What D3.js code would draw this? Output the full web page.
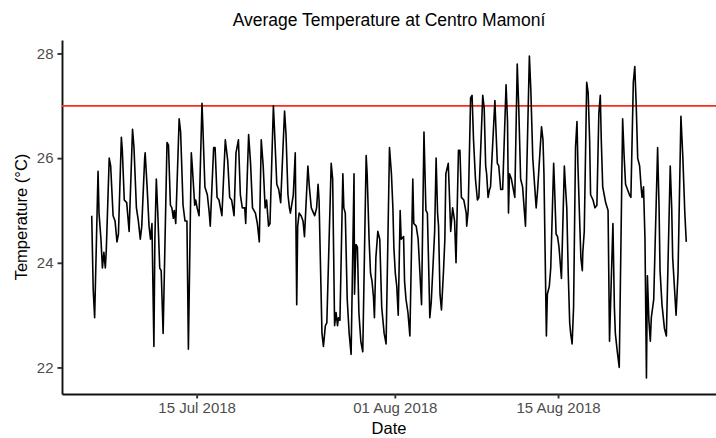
<html>

<head>
    <script src="https://d3js.org/d3.v7.min.js"></script>
    <style>
        body { margin: 0; background: #fff; }
        text { font-family: "Liberation Sans", Arial, sans-serif; }
    </style>
</head>

<body>
    <div id="vis"></div>
</body>

<script>

    // Readings taken off the logger curve (turning points of the daily cycle)
    var times = [
        "2018-07-06 00:00", "2018-07-06 03:00", "2018-07-06 06:00", "2018-07-06 13:00", "2018-07-06 15:00", "2018-07-06 19:00", "2018-07-06 22:00",
        "2018-07-07 01:00", "2018-07-07 04:00", "2018-07-07 06:00", "2018-07-07 12:00", "2018-07-07 15:00", "2018-07-07 20:00",
        "2018-07-08 00:00", "2018-07-08 04:00", "2018-07-08 07:00", "2018-07-08 13:00", "2018-07-08 15:00", "2018-07-08 19:00",
        "2018-07-09 00:00", "2018-07-09 05:00", "2018-07-09 12:00", "2018-07-09 15:00", "2018-07-09 20:00",
        "2018-07-10 00:00", "2018-07-10 04:00", "2018-07-10 07:00", "2018-07-10 13:00", "2018-07-10 14:00", "2018-07-10 18:00", "2018-07-10 22:00",
        "2018-07-11 01:00", "2018-07-11 04:00", "2018-07-11 08:00", "2018-07-11 10:00", "2018-07-11 13:00", "2018-07-11 16:00", "2018-07-11 20:00", "2018-07-11 23:00",
        "2018-07-12 03:00", "2018-07-12 11:00", "2018-07-12 14:00", "2018-07-12 18:00", "2018-07-12 21:00",
        "2018-07-13 00:00", "2018-07-13 02:00", "2018-07-13 05:00", "2018-07-13 12:00", "2018-07-13 15:00", "2018-07-13 20:00",
        "2018-07-14 00:00", "2018-07-14 04:00", "2018-07-14 07:00", "2018-07-14 13:00", "2018-07-14 15:00", "2018-07-14 20:00", "2018-07-14 22:00",
        "2018-07-15 01:00", "2018-07-15 05:00", "2018-07-15 11:00", "2018-07-15 13:00", "2018-07-15 17:00", "2018-07-15 22:00",
        "2018-07-16 02:00", "2018-07-16 04:00", "2018-07-16 11:00", "2018-07-16 14:00", "2018-07-16 18:00", "2018-07-16 22:00",
        "2018-07-17 04:00", "2018-07-17 11:00", "2018-07-17 16:00", "2018-07-17 20:00",
        "2018-07-18 00:00", "2018-07-18 05:00", "2018-07-18 09:00", "2018-07-18 14:00", "2018-07-18 18:00", "2018-07-18 22:00",
        "2018-07-19 03:00", "2018-07-19 05:00", "2018-07-19 11:00", "2018-07-19 15:00", "2018-07-19 19:00",
        "2018-07-20 01:00", "2018-07-20 05:00", "2018-07-20 09:00", "2018-07-20 13:00", "2018-07-20 17:00", "2018-07-20 21:00",
        "2018-07-21 00:00", "2018-07-21 04:00", "2018-07-21 07:00", "2018-07-21 14:00", "2018-07-21 16:00", "2018-07-21 21:00",
        "2018-07-22 01:00", "2018-07-22 05:00", "2018-07-22 13:00", "2018-07-22 16:00", "2018-07-22 20:00", "2018-07-22 23:00",
        "2018-07-23 01:00", "2018-07-23 07:00", "2018-07-23 11:00", "2018-07-23 14:00", "2018-07-23 16:00", "2018-07-23 19:00", "2018-07-23 23:00",
        "2018-07-24 03:00", "2018-07-24 06:00", "2018-07-24 13:00", "2018-07-24 16:00", "2018-07-24 20:00",
        "2018-07-25 03:00", "2018-07-25 07:00", "2018-07-25 10:00", "2018-07-25 12:00", "2018-07-25 18:00", "2018-07-25 21:00",
        "2018-07-26 01:00", "2018-07-26 04:00", "2018-07-26 13:00", "2018-07-26 16:00", "2018-07-26 20:00", "2018-07-26 23:00",
        "2018-07-27 02:00", "2018-07-27 04:00", "2018-07-27 07:00", "2018-07-27 13:00", "2018-07-27 15:00", "2018-07-27 18:00", "2018-07-27 22:00",
        "2018-07-28 02:00", "2018-07-28 06:00", "2018-07-28 12:00", "2018-07-28 13:00", "2018-07-28 16:00", "2018-07-28 19:00", "2018-07-28 22:00",
        "2018-07-29 02:00", "2018-07-29 06:00", "2018-07-29 13:00", "2018-07-29 15:00", "2018-07-29 19:00", "2018-07-29 22:00",
        "2018-07-30 01:00", "2018-07-30 04:00", "2018-07-30 06:00", "2018-07-30 09:00", "2018-07-30 13:00", "2018-07-30 17:00", "2018-07-30 21:00",
        "2018-07-31 02:00", "2018-07-31 06:00", "2018-07-31 13:00", "2018-07-31 17:00", "2018-07-31 20:00", "2018-07-31 22:00",
        "2018-08-01 01:00", "2018-08-01 04:00", "2018-08-01 07:00", "2018-08-01 11:00", "2018-08-01 13:00", "2018-08-01 18:00", "2018-08-01 20:00", "2018-08-01 23:00",
        "2018-08-02 03:00", "2018-08-02 07:00", "2018-08-02 13:00", "2018-08-02 15:00", "2018-08-02 20:00",
        "2018-08-03 00:00", "2018-08-03 02:00", "2018-08-03 07:00", "2018-08-03 12:00", "2018-08-03 16:00", "2018-08-03 19:00", "2018-08-03 22:00",
        "2018-08-04 00:00", "2018-08-04 03:00", "2018-08-04 10:00", "2018-08-04 13:00", "2018-08-04 16:00", "2018-08-04 18:00", "2018-08-04 21:00",
        "2018-08-05 00:00", "2018-08-05 04:00", "2018-08-05 07:00", "2018-08-05 09:00", "2018-08-05 14:00", "2018-08-05 16:00", "2018-08-05 19:00", "2018-08-05 23:00",
        "2018-08-06 03:00", "2018-08-06 06:00", "2018-08-06 11:00", "2018-08-06 14:00", "2018-08-06 17:00", "2018-08-06 22:00",
        "2018-08-07 03:00", "2018-08-07 04:00", "2018-08-07 07:00", "2018-08-07 12:00", "2018-08-07 15:00", "2018-08-07 18:00", "2018-08-07 22:00",
        "2018-08-08 02:00", "2018-08-08 05:00", "2018-08-08 13:00", "2018-08-08 16:00", "2018-08-08 19:00", "2018-08-08 21:00",
        "2018-08-09 00:00", "2018-08-09 03:00", "2018-08-09 05:00", "2018-08-09 14:00", "2018-08-09 16:00", "2018-08-09 19:00", "2018-08-09 22:00",
        "2018-08-10 02:00", "2018-08-10 06:00", "2018-08-10 13:00", "2018-08-10 16:00", "2018-08-10 18:00", "2018-08-10 20:00",
        "2018-08-11 00:00", "2018-08-11 07:00", "2018-08-11 12:00", "2018-08-11 15:00", "2018-08-11 19:00", "2018-08-11 23:00",
        "2018-08-12 05:00", "2018-08-12 13:00", "2018-08-12 16:00", "2018-08-12 20:00",
        "2018-08-13 00:00", "2018-08-13 03:00", "2018-08-13 06:00", "2018-08-13 14:00", "2018-08-13 17:00", "2018-08-13 19:00",
        "2018-08-14 00:00", "2018-08-14 02:00", "2018-08-14 06:00", "2018-08-14 09:00", "2018-08-14 15:00", "2018-08-14 17:00", "2018-08-14 20:00", "2018-08-14 23:00",
        "2018-08-15 02:00", "2018-08-15 07:00", "2018-08-15 13:00", "2018-08-15 15:00", "2018-08-15 18:00", "2018-08-15 21:00",
        "2018-08-16 00:00", "2018-08-16 02:00", "2018-08-16 05:00", "2018-08-16 08:00", "2018-08-16 12:00", "2018-08-16 15:00", "2018-08-16 17:00", "2018-08-16 20:00", "2018-08-16 23:00",
        "2018-08-17 02:00", "2018-08-17 03:00", "2018-08-17 06:00", "2018-08-17 11:00", "2018-08-17 14:00", "2018-08-17 17:00", "2018-08-17 19:00",
        "2018-08-18 00:00", "2018-08-18 04:00", "2018-08-18 08:00", "2018-08-18 12:00", "2018-08-18 15:00", "2018-08-18 17:00", "2018-08-18 20:00", "2018-08-18 23:00",
        "2018-08-19 02:00", "2018-08-19 07:00", "2018-08-19 10:00", "2018-08-19 14:00", "2018-08-19 17:00", "2018-08-19 20:00", "2018-08-19 22:00",
        "2018-08-20 02:00", "2018-08-20 06:00", "2018-08-20 13:00", "2018-08-20 16:00", "2018-08-20 19:00", "2018-08-20 23:00",
        "2018-08-21 03:00", "2018-08-21 06:00", "2018-08-21 11:00", "2018-08-21 14:00", "2018-08-21 17:00", "2018-08-21 20:00",
        "2018-08-22 00:00", "2018-08-22 03:00", "2018-08-22 05:00", "2018-08-22 08:00", "2018-08-22 11:00", "2018-08-22 14:00", "2018-08-22 16:00", "2018-08-22 19:00", "2018-08-22 22:00",
        "2018-08-23 00:00", "2018-08-23 05:00", "2018-08-23 13:00", "2018-08-23 16:00", "2018-08-23 18:00", "2018-08-23 22:00",
        "2018-08-24 03:00", "2018-08-24 07:00", "2018-08-24 15:00", "2018-08-24 18:00", "2018-08-24 20:00",
        "2018-08-25 03:00", "2018-08-25 07:00", "2018-08-25 13:00", "2018-08-25 17:00", "2018-08-25 21:00",
        "2018-08-26 00:00"
    ];

    var temps = [
        24.9, 23.5, 22.95, 25.75, 24.95, 24.45, 23.9,
        24.2, 23.9, 24.25, 26.0, 25.85, 24.9,
        24.8, 24.4, 24.55, 26.4, 26.15, 25.2,
        25.15, 24.6, 26.55, 26.2, 25.05,
        24.8, 24.45, 24.7, 26.0, 26.1, 25.45, 24.7,
        24.45, 24.75, 22.4, 24.45, 25.6, 24.95, 23.9, 23.85,
        22.65, 26.3, 26.25, 25.1, 25.05,
        24.85, 25.0, 24.75, 26.75, 26.5, 25.1,
        24.8, 24.8, 22.35, 26.1, 25.85, 25.1, 25.2,
        25.05, 24.9, 27.05, 26.55, 25.45, 25.3,
        24.95, 24.7, 26.2, 26.2, 25.25, 25.2,
        24.9, 26.35, 25.95, 25.25,
        25.2, 24.9, 26.1, 26.35, 25.3, 25.05,
        25.05, 24.75, 26.45, 25.9, 25.05,
        24.95, 24.75, 24.4, 26.35, 25.85, 25.05,
        25.2, 24.7, 24.75, 27.0, 26.6, 25.5,
        25.4, 25.15, 26.9, 26.45, 25.3, 25.05,
        24.95, 25.3, 26.1, 23.2, 24.7, 24.95, 24.9,
        24.8, 24.5, 25.85, 25.45, 25.05,
        24.9, 25.05, 25.5, 25.2, 22.65, 22.4,
        22.8, 22.85, 25.9, 25.6, 22.8, 23.05,
        22.8, 22.95, 22.9, 25.7, 25.05, 24.95, 23.3,
        22.65, 22.25, 25.7, 23.4, 24.35, 24.3, 23.05,
        22.5, 22.3, 26.05, 25.7, 24.45, 23.8,
        23.65, 23.35, 22.95, 24.1, 24.6, 24.45, 23.15,
        22.65, 22.45, 26.2, 25.7, 25.05, 24.3,
        23.8, 23.55, 23.0, 25.0, 24.45, 24.5, 23.65, 23.3,
        23.05, 22.6, 25.6, 24.75, 24.7,
        24.45, 24.1, 23.2, 26.5, 25.0, 24.95, 23.8,
        22.95, 23.25, 24.6, 26.0, 24.95, 24.7, 23.4,
        23.1, 23.8, 24.45, 25.7, 25.9, 25.4, 24.6, 25.05,
        24.8, 24.0, 26.15, 26.15, 25.25, 25.2,
        24.95, 24.7, 25.0, 27.15, 27.2, 26.35, 25.6,
        25.2, 25.25, 27.2, 26.95, 25.85, 25.7,
        25.25, 25.4, 25.45, 27.1, 26.6, 25.9, 25.85,
        25.4, 25.4, 27.4, 26.7, 24.95, 25.7,
        25.6, 25.25, 27.8, 27.0, 25.6, 25.45,
        24.7, 27.95, 27.3, 26.0,
        25.45, 25.05, 25.4, 26.6, 26.35, 25.7,
        22.6, 23.4, 23.55, 23.9, 25.9, 25.4, 24.55, 24.5,
        24.3, 23.7, 25.85, 25.5, 25.05, 23.8,
        22.85, 22.65, 22.45, 23.15, 26.2, 26.7, 25.85, 24.95, 24.1,
        23.85, 24.2, 24.6, 27.45, 27.25, 26.35, 25.3,
        25.2, 25.05, 25.1, 26.85, 27.2, 26.35, 25.45, 25.3,
        25.15, 25.0, 22.5, 23.8, 24.75, 23.15, 22.65,
        22.3, 22.0, 26.75, 26.05, 25.5, 25.4,
        25.3, 25.25, 27.45, 27.75, 27.0, 26.0,
        25.85, 25.45, 25.25, 25.45, 24.45, 21.8, 23.75, 22.9, 22.5,
        22.95, 23.3, 26.2, 25.05, 23.85, 23.2,
        22.75, 22.6, 25.85, 25.05, 24.1,
        23.0, 23.8, 26.8, 26.0, 24.95,
        24.4
    ];

    var threshold = 27;
    var yTicks = [22, 24, 26, 28];
    var xTicks = ["2018-07-15", "2018-08-01", "2018-08-15"];
    var chartTitle = "Average Temperature at Centro Mamoní";
    var xLabel = "Date";
    var yLabel = "Temperature (°C)";

    //Setting up the graph area
    var margin = { top: 40, right: 0, bottom: 44, left: 62 },
        width = 716 - margin.left - margin.right,
        height = 438 - margin.top - margin.bottom;

    var root = d3.select("#vis")
        .append("svg")
        .attr("width", width + margin.left + margin.right)
        .attr("height", height + margin.top + margin.bottom);

    var svg = root.append("g")
        .attr("transform", "translate(" + margin.left + "," + margin.top + ")");

    var parseTime = d3.timeParse("%Y-%m-%d %H:%M");
    var parseDay = d3.timeParse("%Y-%m-%d");

    var data = times.map(function (t, i) {
        return { date: parseTime(t), temp: temps[i] };
    });

    // scales padded 5% each side like ggplot
    var xExt = d3.extent(data, function (d) { return d.date; });
    var xPad = (xExt[1] - xExt[0]) * 0.05;
    var x = d3.scaleTime()
        .domain([new Date(+xExt[0] - xPad), new Date(+xExt[1] + xPad)])
        .range([0, width]);

    var yExt = d3.extent(temps);
    var yPad = (yExt[1] - yExt[0]) * 0.05;
    var y = d3.scaleLinear()
        .domain([yExt[0] - yPad, yExt[1] + yPad])
        .range([height, 0]);

    //The X Axis
    var xAxis = svg.append("g")
        .attr("transform", "translate(0," + height + ")")
        .call(d3.axisBottom(x)
            .tickValues(xTicks.map(parseDay))
            .tickFormat(d3.timeFormat("%d %b %Y"))
            .tickSizeInner(4.5)
            .tickSizeOuter(0)
            .tickPadding(3.5));

    //The Y axis
    var yAxis = svg.append("g")
        .call(d3.axisLeft(y)
            .tickValues(yTicks)
            .tickFormat(d3.format("d"))
            .tickSizeInner(4.5)
            .tickSizeOuter(0)
            .tickPadding(4));

    [xAxis, yAxis].forEach(function (ax) {
        ax.select(".domain").attr("stroke", "#111").attr("stroke-width", 1.9);
        ax.selectAll(".tick line").attr("stroke", "#333").attr("stroke-width", 1.9);
        ax.selectAll(".tick text")
            .attr("fill", "#4d4d4d")
            .style("font-size", "15px")
            .style("font-family", "'Liberation Sans', Arial, sans-serif");
    });

    // threshold line
    svg.append("line")
        .attr("x1", 0)
        .attr("x2", width)
        .attr("y1", y(threshold))
        .attr("y2", y(threshold))
        .attr("stroke", "#ff2a1a")
        .attr("stroke-width", 1.7);

    // temperature series
    svg.append("path")
        .datum(data)
        .attr("fill", "none")
        .attr("stroke", "#000")
        .attr("stroke-width", 1.6)
        .attr("stroke-linejoin", "round")
        .attr("d", d3.line()
            .x(function (d) { return x(d.date); })
            .y(function (d) { return y(d.temp); }));

    // titles
    root.append("text")
        .attr("text-anchor", "middle")
        .attr("x", margin.left + width / 2)
        .attr("y", 26)
        .style("font-size", "17.5px")
        .attr("fill", "#000")
        .text(chartTitle);

    root.append("text")
        .attr("text-anchor", "middle")
        .attr("x", margin.left + width / 2)
        .attr("y", 434)
        .style("font-size", "16.5px")
        .attr("fill", "#000")
        .text(xLabel);

    root.append("text")
        .attr("text-anchor", "middle")
        .attr("transform", "rotate(-90)")
        .attr("x", -(margin.top + height / 2))
        .attr("y", 27)
        .style("font-size", "16.5px")
        .attr("fill", "#000")
        .text(yLabel);

</script>

</html>
